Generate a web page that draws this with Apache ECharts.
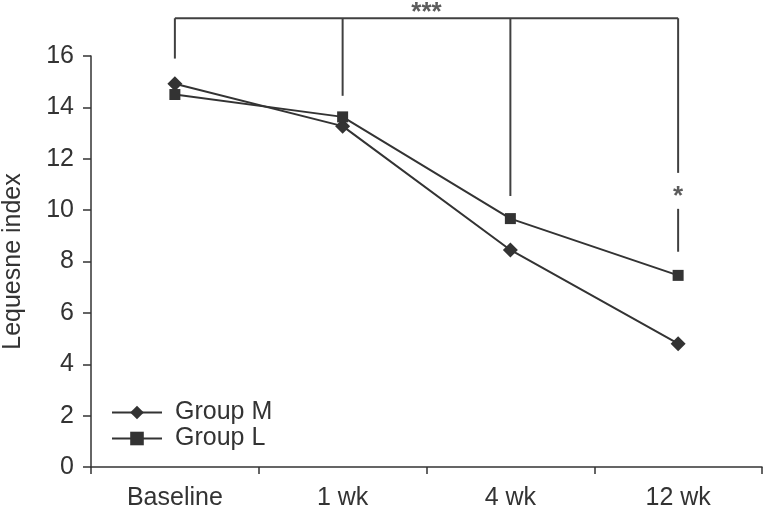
<!DOCTYPE html>
<html>
<head>
<meta charset="utf-8">
<script src="https://cdn.jsdelivr.net/npm/echarts@6/dist/echarts.min.js"></script>
<style>html,body{margin:0;padding:0;background:#fff}#c{width:765px;height:507px}</style>
</head>
<body>
<div id="c"></div>
<script>
const categories = ['Baseline', '1 wk', '4 wk', '12 wk'];
const groupM = [14.92, 13.27, 8.45, 4.8];
const groupL = [14.5, 13.63, 9.67, 7.46];
const yTicks = [0, 2, 4, 6, 8, 10, 12, 14, 16];
// significance annotations (category index, value)
const bracketTop = 17.47;
const bracketEnds = [15.9, 14.45, 10.55, 11.45];
const lowerSegment12wk = [10.05, 8.38];
const starAll = [1.5, 17.7, '***'];
const starLast = [3, 10.5, '*'];

const ink = '#333333';
const font = 'Liberation Sans, Arial, sans-serif';
const annoStyle = {color: '#404040', width: 2};

const annoSeries = [];
annoSeries.push({
  type: 'line', xAxisIndex: 1, clip: false, silent: true, symbol: 'none',
  lineStyle: annoStyle, data: [[0, bracketTop], [categories.length - 1, bracketTop]]
});
bracketEnds.forEach((v, i) => {
  annoSeries.push({
    type: 'line', xAxisIndex: 1, clip: false, silent: true, symbol: 'none',
    lineStyle: annoStyle, data: [[i, bracketTop], [i, v]]
  });
});
annoSeries.push({
  type: 'line', xAxisIndex: 1, clip: false, silent: true, symbol: 'none',
  lineStyle: annoStyle, data: [[3, lowerSegment12wk[0]], [3, lowerSegment12wk[1]]]
});
annoSeries.push({
  type: 'scatter', xAxisIndex: 1, clip: false, silent: true, symbolSize: 0,
  data: [starAll, starLast],
  label: {show: true, position: 'inside', formatter: p => p.data[2],
          color: ink, fontSize: 26, fontWeight: 'bold', fontFamily: font}
});

const chart = echarts.init(document.getElementById('c'), null, {renderer: 'canvas'});
chart.setOption({
  animation: false,
  textStyle: {fontFamily: font},
  grid: {left: 91, right: 3, top: 56, bottom: 40, containLabel: false, outerBoundsMode: 'none'},
  legend: {
    data: ['Group M', 'Group L'], orient: 'vertical', left: 106, top: 395,
    itemWidth: 50, itemHeight: 17, itemGap: 1,
    textStyle: {color: ink, fontSize: 25, fontFamily: font, padding: [0, 0, 0, 8]}
  },
  xAxis: [{
    type: 'category', data: categories, boundaryGap: true,
    axisLine: {onZero: false, lineStyle: {color: ink, width: 1.5}},
    axisTick: {show: true, length: 7, lineStyle: {color: ink, width: 1.5}},
    axisLabel: {color: ink, fontSize: 25, fontFamily: font, margin: 19}
  }, {
    type: 'value', min: -0.5, max: 3.5, show: false
  }],
  yAxis: {
    type: 'value', min: yTicks[0], max: yTicks[yTicks.length - 1], interval: 2,
    name: 'Lequesne index', nameLocation: 'middle', nameGap: 65,
    nameTextStyle: {color: ink, fontSize: 25, fontFamily: font},
    axisLine: {show: true, onZero: false, lineStyle: {color: ink, width: 1.5}},
    axisTick: {show: true, length: 8, lineStyle: {color: ink, width: 1.5}},
    axisLabel: {color: ink, fontSize: 25, fontFamily: font, margin: 17},
    splitLine: {show: false}
  },
  series: [{
    name: 'Group M', type: 'line', data: groupM, symbol: 'diamond', symbolSize: 15,
    itemStyle: {color: ink}, lineStyle: {color: ink, width: 2}, z: 5
  }, {
    name: 'Group L', type: 'line', data: groupL, symbol: 'rect', symbolSize: 11,
    itemStyle: {color: ink}, lineStyle: {color: ink, width: 2}, z: 5
  }].concat(annoSeries)
});
</script>
</body>
</html>
